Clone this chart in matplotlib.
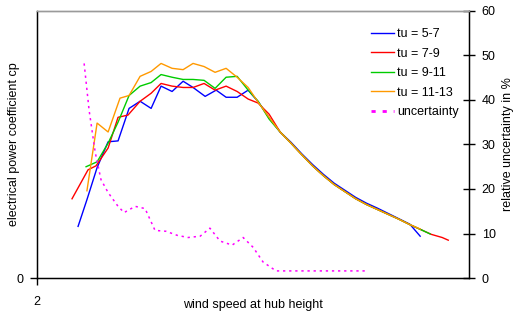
import matplotlib
matplotlib.use("Agg")
import matplotlib.pyplot as plt

plt.rcParams["font.family"] = ["Liberation Sans", "DejaVu Sans"]

# common descending branch (all classes merge above ~13 m/s)
ws_tail = [13.75, 14.25, 14.75, 15.25, 15.75, 16.25, 16.75, 17.25, 17.75, 18.25, 18.75, 19.25]
cp_tail = [0.303, 0.277, 0.252, 0.230, 0.210, 0.194, 0.178, 0.165, 0.154, 0.143, 0.132, 0.120]

ws_57 = [3.90, 4.31, 4.78, 5.29, 5.75, 6.26, 6.77, 7.28, 7.74, 8.25, 8.76, 9.22, 9.78, 10.29,
         10.75, 11.26, 11.77, 12.25, 12.75, 13.25] + ws_tail + [19.73]
cp_57 = [0.116, 0.176, 0.248, 0.306, 0.308, 0.381, 0.397, 0.381, 0.431, 0.419, 0.442, 0.428,
         0.408, 0.422, 0.406, 0.406, 0.422, 0.395, 0.359, 0.328] + \
        [0.305, 0.279, 0.255, 0.233, 0.213, 0.197, 0.181, 0.168, 0.157, 0.145, 0.133, 0.121] + [0.094]

ws_79 = [3.62, 4.36, 4.73, 5.29, 5.75, 6.21, 6.77, 7.28, 7.74, 8.25, 8.76, 9.22, 9.73, 10.24,
         10.75, 11.26, 11.77, 12.23, 12.74, 13.25] + ws_tail + [19.75, 20.25, 20.75, 21.03]
cp_79 = [0.178, 0.243, 0.252, 0.292, 0.361, 0.366, 0.397, 0.415, 0.437, 0.431, 0.428, 0.428,
         0.437, 0.422, 0.431, 0.419, 0.402, 0.393, 0.368, 0.328] + cp_tail + [0.109, 0.098, 0.091, 0.085]

ws_911 = [4.27, 4.78, 5.29, 5.75, 6.26, 6.77, 7.28, 7.74, 8.25, 8.76, 9.22, 9.73, 10.24, 10.75,
          11.26, 11.77, 12.23, 12.74, 13.25] + ws_tail + [19.75, 20.19]
cp_911 = [0.250, 0.261, 0.303, 0.350, 0.410, 0.431, 0.439, 0.457, 0.451, 0.446, 0.446, 0.444,
          0.426, 0.451, 0.453, 0.422, 0.397, 0.357, 0.328] + cp_tail + [0.109, 0.099]

ws_1113 = [4.31, 4.78, 5.29, 5.84, 6.26, 6.77, 7.28, 7.74, 8.25, 8.76, 9.22, 9.73, 10.24, 10.75,
           11.26, 11.77, 12.23, 12.74, 13.25] + ws_tail + [19.73]
cp_1113 = [0.196, 0.348, 0.328, 0.404, 0.410, 0.453, 0.464, 0.482, 0.471, 0.468, 0.482, 0.475,
           0.462, 0.471, 0.451, 0.428, 0.395, 0.361, 0.328] + cp_tail + [0.110]

ws_unc = [4.18, 4.41, 4.69, 4.96, 5.29, 5.75, 6.03, 6.54, 7.00, 7.46, 7.97, 8.48, 8.99, 9.55,
          10.0, 10.47, 11.03, 11.54, 12.0, 12.46, 13.06, 17.32]
unc = [48.2, 37.7, 28.3, 22.1, 19.2, 16.1, 14.7, 16.1, 15.6, 10.7, 10.5, 9.6, 9.1, 9.4,
       11.2, 8.3, 7.4, 9.1, 6.9, 3.6, 1.6, 1.6]

FS = 9

fig = plt.figure(figsize=(5.17, 3.11), dpi=100)
ax = fig.add_axes([0.0716, 0.106, 0.836, 0.859])
ax2 = ax.twinx()

l1, = ax.plot(ws_57, cp_57, color="#0000ff", lw=1, label="tu = 5-7")
l2, = ax.plot(ws_79, cp_79, color="#ff0000", lw=1, label="tu = 7-9")
l3, = ax.plot(ws_911, cp_911, color="#00cc00", lw=1, label="tu = 9-11")
l4, = ax.plot(ws_1113, cp_1113, color="#ff9900", lw=1, label="tu = 11-13")
l5, = ax2.plot(ws_unc, unc, color="#ff00ff", lw=1.1, ls=(0, (1.5, 2.5)), label="uncertainty")

ax.set_xlim(2, 22)
ax.set_ylim(0, 0.6)
ax2.set_ylim(0, 60)
ax.set_xticks([2])
ax.set_yticks([0])
ax2.set_yticks(range(0, 61, 10))

for a in (ax, ax2):
    a.spines["top"].set_color("#9a9a9a")
    a.spines["top"].set_linewidth(1)
ax.spines["left"].set_linewidth(1)
ax.spines["bottom"].set_linewidth(1)
ax2.spines["right"].set_linewidth(1)
ax.tick_params(axis="x", direction="out", length=5, width=1, labelsize=FS, pad=8)
ax.tick_params(axis="y", direction="out", length=5, width=1, labelsize=FS, pad=5)
ax2.tick_params(axis="y", direction="inout", length=8, width=1, labelsize=FS, pad=5)

ax.set_xlabel("wind speed at hub height", fontsize=FS)
ax.set_ylabel("electrical power coefficient cp", fontsize=FS)
ax2.set_ylabel("relative uncertainty in %", fontsize=FS)
ax.xaxis.set_label_coords(0.5, -0.077)
ax.yaxis.set_label_coords(-0.04, 0.5)
ax2.yaxis.set_label_coords(1.075, 0.5)

leg = ax.legend(handles=[l1, l2, l3, l4, l5], loc="upper right", bbox_to_anchor=(0.975, 0.935),
                frameon=False, fontsize=FS, handlelength=1.85, handletextpad=0.25,
                labelspacing=0.6, borderaxespad=0, borderpad=0)
leg.get_lines()[4].set_linewidth(2)

fig.savefig("out.png", dpi=100, facecolor="white")
